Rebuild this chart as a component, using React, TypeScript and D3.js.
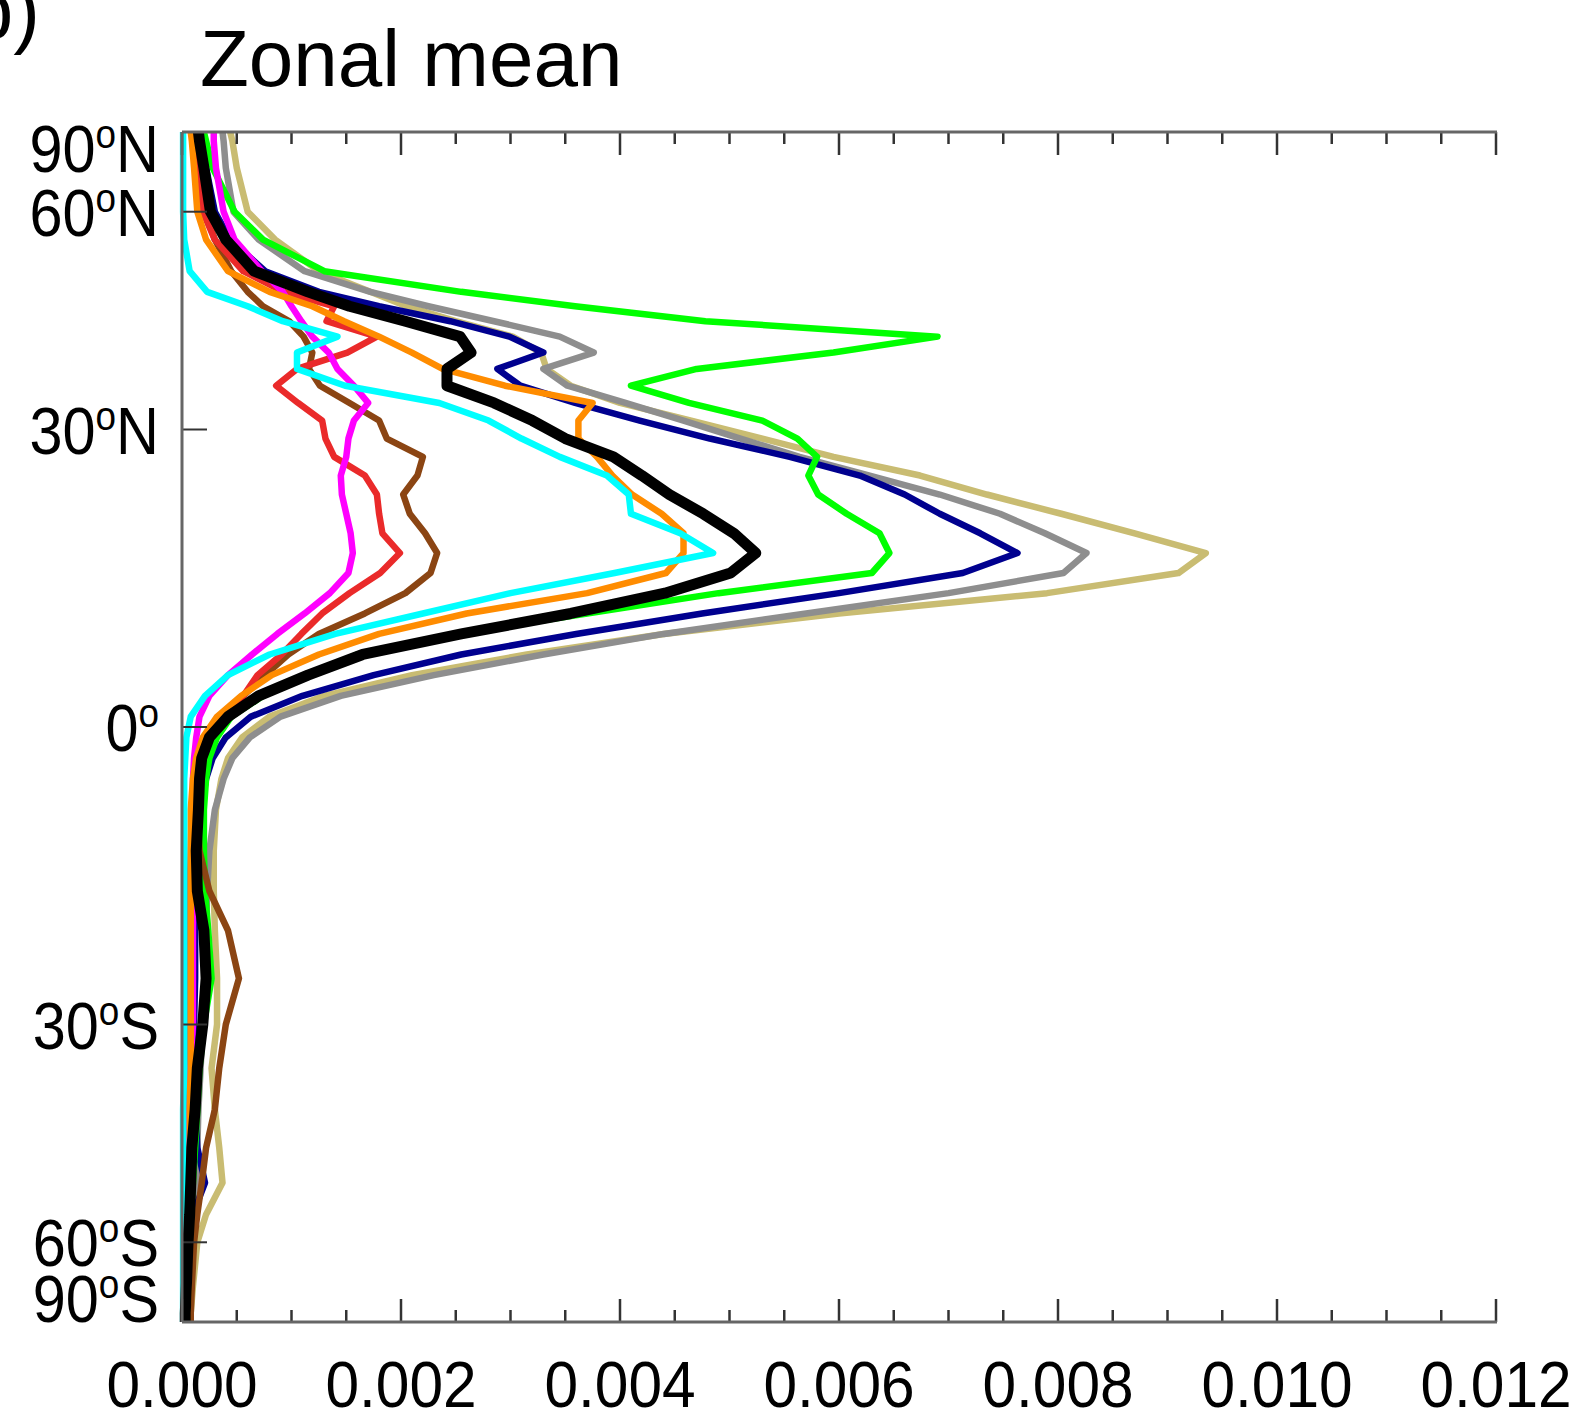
import React, { useEffect, useRef } from 'react';
import * as d3 from 'd3';

// latitude grid (deg) shared by all curves
const lats = [90, 80, 70, 60, 55, 50, 47, 45, 43, 41, 39, 37, 35, 33, 31, 29, 27, 25, 23, 21, 19, 17, 15, 13, 11, 9, 7, 5, 3, 1,
  -1, -3, -5, -8, -12, -16, -20, -25, -30, -35, -40, -45, -50, -55, -60, -70, -80, -90];

// zonal mean values, in units of 1e-3
const black = [0.15, 0.16, 0.20, 0.26, 0.40, 0.66, 1.15, 1.53, 2.04, 2.54, 2.64, 2.42, 2.42, 2.85, 3.20, 3.50, 3.94, 4.20, 4.45, 4.76, 5.04, 5.24, 5.01, 4.41,
  3.55, 2.55, 1.65, 1.15, 0.70, 0.42, 0.25, 0.18, 0.16, 0.15, 0.13, 0.14, 0.20, 0.22, 0.19, 0.14, 0.12, 0.09, 0.08, 0.07, 0.055, 0.04, 0.03, 0.03];
const navy = [0.16, 0.18, 0.22, 0.30, 0.44, 0.76, 1.25, 1.80, 2.45, 2.99, 3.30, 2.88, 3.09, 3.59, 4.18, 4.82, 5.55, 6.19, 6.60, 6.92, 7.29, 7.63, 7.13, 6.00,
  4.75, 3.60, 2.55, 1.75, 1.10, 0.63, 0.40, 0.28, 0.22, 0.17, 0.14, 0.12, 0.12, 0.12, 0.11, 0.11, 0.12, 0.14, 0.21, 0.10, 0.06, 0.03, 0.02, 0.02];
const gray = [0.37, 0.38, 0.40, 0.47, 0.70, 1.12, 1.72, 2.25, 2.85, 3.45, 3.76, 3.30, 3.52, 4.05, 4.58, 5.10, 5.64, 6.28, 6.92, 7.47, 7.88, 8.26, 8.05, 7.00,
  5.70, 4.40, 3.30, 2.30, 1.45, 0.90, 0.62, 0.46, 0.38, 0.30, 0.25, 0.23, 0.22, 0.21, 0.19, 0.17, 0.15, 0.14, 0.13, 0.11, 0.09, 0.07, 0.06, 0.06];
const tan = [0.44, 0.46, 0.50, 0.60, 0.85, 1.25, 1.72, 2.05, 2.50, 3.02, 3.28, 3.33, 3.55, 4.00, 4.65, 5.30, 5.95, 6.74, 7.35, 8.03, 8.70, 9.35, 9.10, 7.90,
  6.00, 4.40, 3.15, 2.10, 1.30, 0.80, 0.55, 0.42, 0.36, 0.31, 0.29, 0.29, 0.30, 0.32, 0.32, 0.27, 0.30, 0.34, 0.37, 0.22, 0.14, 0.10, 0.08, 0.07];
const green = [0.20, 0.22, 0.28, 0.48, 0.74, 1.30, 2.55, 3.59, 4.78, 6.90, 5.95, 4.70, 4.10, 4.63, 5.30, 5.62, 5.80, 5.72, 5.81, 6.07, 6.37, 6.46, 6.30, 4.90,
  3.70, 2.50, 1.60, 1.15, 0.74, 0.45, 0.32, 0.25, 0.22, 0.20, 0.20, 0.21, 0.24, 0.27, 0.20, 0.16, 0.14, 0.12, 0.10, 0.08, 0.07, 0.06, 0.05, 0.05];
const orange = [0.08, 0.09, 0.11, 0.14, 0.22, 0.42, 0.80, 1.19, 1.48, 1.80, 2.10, 2.38, 2.95, 3.75, 3.62, 3.62, 3.79, 3.93, 4.11, 4.38, 4.58, 4.58, 4.42, 3.70,
  2.60, 1.80, 1.25, 0.82, 0.54, 0.32, 0.19, 0.13, 0.10, 0.08, 0.08, 0.08, 0.08, 0.08, 0.08, 0.08, 0.07, 0.07, 0.07, 0.06, 0.06, 0.06, 0.05, 0.05];
const cyan = [0.01, 0.01, 0.01, 0.01, 0.02, 0.07, 0.23, 0.60, 0.92, 1.42, 1.05, 1.05, 1.49, 2.35, 2.80, 3.10, 3.45, 3.88, 4.08, 4.10, 4.55, 4.85, 3.95, 3.00,
  2.20, 1.40, 0.80, 0.42, 0.21, 0.08, 0.04, 0.03, 0.02, 0.02, 0.02, 0.02, 0.02, 0.02, 0.02, 0.02, 0.01, 0.01, 0.01, 0.01, 0.01, 0.01, 0.01, 0.01];
const red = [0.11, 0.12, 0.14, 0.19, 0.30, 0.56, 0.93, 1.39, 1.32, 1.78, 1.51, 1.05, 0.86, 1.06, 1.28, 1.31, 1.39, 1.67, 1.78, 1.80, 1.83, 1.99, 1.81, 1.53,
  1.28, 1.09, 0.91, 0.69, 0.56, 0.39, 0.25, 0.17, 0.12, 0.09, 0.08, 0.07, 0.07, 0.07, 0.07, 0.07, 0.06, 0.06, 0.06, 0.05, 0.05, 0.05, 0.04, 0.04];
const brown = [0.12, 0.13, 0.16, 0.21, 0.30, 0.45, 0.60, 0.74, 0.98, 1.11, 1.19, 1.16, 1.26, 1.53, 1.80, 1.87, 2.20, 2.15, 2.02, 2.08, 2.22, 2.33, 2.27, 2.04,
  1.67, 1.25, 0.97, 0.76, 0.56, 0.39, 0.26, 0.19, 0.15, 0.14, 0.16, 0.25, 0.42, 0.52, 0.40, 0.34, 0.30, 0.22, 0.18, 0.14, 0.11, 0.09, 0.08, 0.08];
const magenta = [0.29, 0.29, 0.31, 0.38, 0.48, 0.73, 0.92, 1.00, 1.09, 1.19, 1.34, 1.42, 1.57, 1.70, 1.57, 1.52, 1.50, 1.45, 1.46, 1.50, 1.54, 1.56, 1.52, 1.35,
  1.12, 0.87, 0.64, 0.42, 0.25, 0.16, 0.13, 0.11, 0.10, 0.10, 0.10, 0.10, 0.10, 0.10, 0.10, 0.08, 0.07, 0.06, 0.05, 0.05, 0.04, 0.04, 0.03, 0.03];

// drawn back to front
const series = [
  { values: tan, color: '#c9bc72', width: 6.5 },
  { values: gray, color: '#8e8e8e', width: 6.5 },
  { values: navy, color: '#00008f', width: 6.5 },
  { values: green, color: '#00ff00', width: 6.5 },
  { values: brown, color: '#8b4513', width: 6.5 },
  { values: red, color: '#ea2a2a', width: 6.5 },
  { values: magenta, color: '#ff00ff', width: 6.5 },
  { values: orange, color: '#ff8c00', width: 6.5 },
  { values: cyan, color: '#00ffff', width: 6.5 },
  { values: black, color: '#000000', width: 11 },
];

const xMajorTicks = [0, 0.002, 0.004, 0.006, 0.008, 0.010, 0.012];
const latTicks = [90, 60, 30, 0, -30, -60, -90];
const latLabels = [['90', 'N'], ['60', 'N'], ['30', 'N'], ['0', ''], ['30', 'S'], ['60', 'S'], ['90', 'S']];

export default function App() {
  const ref = useRef<SVGSVGElement>(null);

  useEffect(() => {
    const svg = d3.select(ref.current);
    svg.selectAll('*').remove();
    const font = '"Liberation Sans", Arial, Helvetica, sans-serif';

    const left = 182, right = 1496, top = 132, bottom = 1322;
    const x = d3.scaleLinear().domain([0, 0.012]).range([left, right]);
    const y = d3.scaleLinear().domain([-1, 1]).range([bottom, top]);
    const yLat = (lat: number) => y(Math.sin(lat * Math.PI / 180));

    // curves
    const line = d3.line<number>()
      .x(v => x(v * 1e-3))
      .y((_, i) => yLat(lats[i]));
    series.forEach(s => {
      svg.append('path')
        .attr('d', line(s.values))
        .attr('fill', 'none')
        .attr('stroke', s.color)
        .attr('stroke-width', s.width)
        .attr('stroke-linejoin', 'round');
    });

    // axes
    const axisColor = '#666';
    const tickColor = '#333';
    const minor = d3.range(0, 25, 1).map(i => i * 0.0005);
    minor.forEach(v => {
      const major = xMajorTicks.some(m => Math.abs(m - v) < 1e-9);
      const len = major ? 23 : 12;
      svg.append('line').attr('x1', x(v)).attr('x2', x(v)).attr('y1', top).attr('y2', top + len)
        .attr('stroke', tickColor).attr('stroke-width', 2.5);
      svg.append('line').attr('x1', x(v)).attr('x2', x(v)).attr('y1', bottom).attr('y2', bottom - len)
        .attr('stroke', tickColor).attr('stroke-width', 2.5);
    });
    latTicks.forEach(lat => {
      svg.append('line').attr('x1', left).attr('x2', left + 25).attr('y1', yLat(lat)).attr('y2', yLat(lat))
        .attr('stroke', tickColor).attr('stroke-width', 2);
    });
    svg.append('line').attr('x1', left).attr('x2', right + 1).attr('y1', top).attr('y2', top)
      .attr('stroke', axisColor).attr('stroke-width', 3);
    svg.append('line').attr('x1', left).attr('x2', right + 1).attr('y1', bottom).attr('y2', bottom)
      .attr('stroke', axisColor).attr('stroke-width', 3);
    svg.append('line').attr('x1', left).attr('x2', left).attr('y1', top).attr('y2', bottom)
      .attr('stroke', axisColor).attr('stroke-width', 3);

    // x tick labels
    xMajorTicks.forEach(v => {
      svg.append('text')
        .attr('transform', `translate(${x(v)},1407) scale(0.93,1)`)
        .attr('text-anchor', 'middle')
        .attr('font-family', font).attr('font-size', 65)
        .text(v.toFixed(3));
    });

    // y tick labels (degree as superscript o)
    latTicks.forEach((lat, i) => {
      const base = Math.min(Math.max(yLat(lat) + 24, top + 40), bottom);
      const t = svg.append('text')
        .attr('transform', `translate(159,${base}) scale(0.9,1)`)
        .attr('text-anchor', 'end')
        .attr('font-family', font).attr('font-size', 66);
      t.append('tspan').text(latLabels[i][0]);
      t.append('tspan').attr('font-size', 41).attr('dy', -24).text('o');
      if (latLabels[i][1]) t.append('tspan').attr('dy', 24).text(latLabels[i][1]);
    });

    // title and panel letter
    svg.append('text').attr('x', 200).attr('y', 86)
      .attr('font-family', font).attr('font-size', 80).text('Zonal mean');
    svg.append('text').attr('x', 40).attr('y', 38).attr('text-anchor', 'end')
      .attr('font-family', font).attr('font-size', 80).text('b)');
  }, []);

  return (
    <svg ref={ref} width={1588} height={1419}
      style={{ position: 'absolute', left: 0, top: 0, background: '#fff' }} />
  );
}
